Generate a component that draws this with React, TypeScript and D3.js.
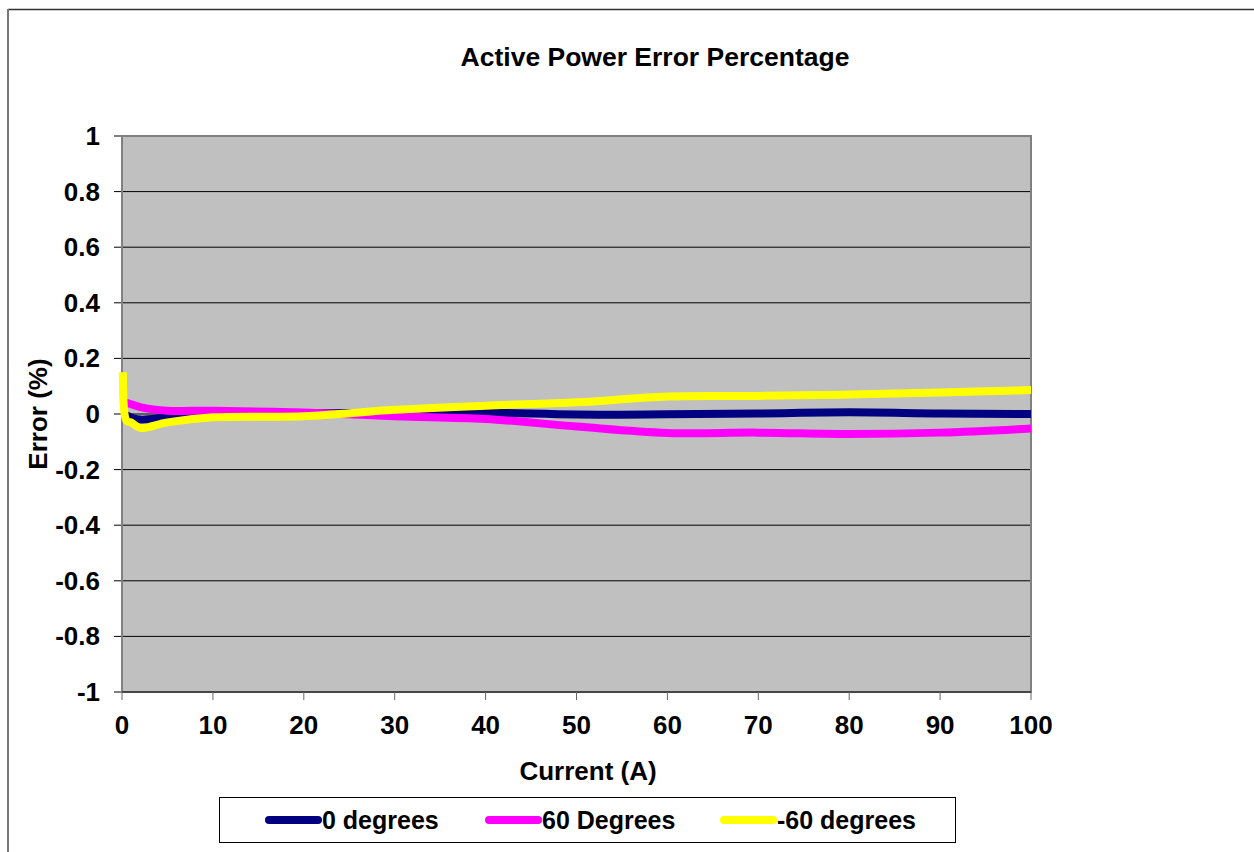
import * as d3 from "d3";

const MARGIN = { top: 136, right: 223, bottom: 160, left: 122 };
const WIDTH = 1254;
const HEIGHT = 852;

// current in amps
const current = [0.1, 0.5, 1, 2, 5, 10, 20, 30, 40, 50, 60, 70, 80, 90, 100];
const deg0 = [0, -0.005, -0.012, -0.02, -0.012, 0, 0.003, 0.004, 0.005, -0.002, -0.001, 0.002, 0.006, 0.002, 0];
const deg60 = [0.04, 0.04, 0.035, 0.025, 0.012, 0.012, 0.005, -0.008, -0.018, -0.045, -0.068, -0.067, -0.072, -0.067, -0.052];
const degMinus60 = [0.15, -0.025, -0.03, -0.05, -0.03, -0.012, -0.008, 0.015, 0.03, 0.042, 0.063, 0.065, 0.07, 0.077, 0.086];

const xTicks = [0, 10, 20, 30, 40, 50, 60, 70, 80, 90, 100];
const yTicks = [-1, -0.8, -0.6, -0.4, -0.2, 0, 0.2, 0.4, 0.6, 0.8, 1];

const series = [
  { name: "0 degrees", values: deg0, color: "#000080" },
  { name: "60 Degrees", values: deg60, color: "#FF00FF" },
  { name: "-60 degrees", values: degMinus60, color: "#FFFF00" },
];

const FONT = "'Liberation Sans', Arial, sans-serif";

export default function App() {
  const innerWidth = WIDTH - MARGIN.left - MARGIN.right;
  const innerHeight = HEIGHT - MARGIN.top - MARGIN.bottom;

  const xScale = d3.scaleLinear().domain([0, 100]).range([0, innerWidth]);
  const yScale = d3.scaleLinear().domain([-1, 1]).range([innerHeight, 0]);

  const line = d3
    .line<number>()
    .x((_, i) => xScale(current[i]))
    .y((d) => yScale(d))
    .curve(d3.curveCatmullRom.alpha(0.5));

  const legendItems = [265, 485, 720];

  return (
    <svg
      width={WIDTH}
      height={HEIGHT}
      style={{ position: "absolute", left: 0, top: 0, fontFamily: FONT, fontWeight: "bold" }}
    >
      <rect x={0} y={0} width={WIDTH} height={HEIGHT} fill="#fff" />
      {/* chart frame */}
      <line x1={8} x2={WIDTH} y1={9.5} y2={9.5} stroke="#333" strokeWidth={1.5} />
      <line x1={8} x2={8} y1={9} y2={HEIGHT} stroke="#777" strokeWidth={2} />

      <text x={655} y={57} textAnchor="middle" dominantBaseline="central" fontSize={26.5}>
        Active Power Error Percentage
      </text>

      <g transform={`translate(${MARGIN.left},${MARGIN.top})`}>
        <rect width={innerWidth} height={innerHeight} fill="#C0C0C0" />
        {yTicks.map((t) => (
          <g key={t} transform={`translate(0,${yScale(t)})`}>
            {t !== 1 && t !== -1 && <line x2={innerWidth} stroke="#000" strokeWidth={1} />}
            <line x1={-8} x2={0} stroke="#000" strokeWidth={1} />
            <text x={-22} textAnchor="end" dominantBaseline="central" fontSize={26}>
              {t}
            </text>
          </g>
        ))}
        <rect width={innerWidth} height={innerHeight} fill="none" stroke="#808080" strokeWidth={2} />
        <line x1={0} x2={innerWidth} y1={innerHeight} y2={innerHeight} stroke="#333" strokeWidth={1.5} />
        {xTicks.map((t) => (
          <g key={t} transform={`translate(${xScale(t)},${innerHeight})`}>
            <line y1={0} y2={8} stroke="#666" strokeWidth={1} />
            <text y={33} textAnchor="middle" dominantBaseline="central" fontSize={26}>
              {t}
            </text>
          </g>
        ))}

        {series.map((s) => (
          <path
            key={s.name}
            d={line(s.values) ?? ""}
            fill="none"
            stroke={s.color}
            strokeWidth={8}
            strokeLinejoin="round"
          />
        ))}
      </g>

      <text x={588} y={771} textAnchor="middle" dominantBaseline="central" fontSize={26}>
        Current (A)
      </text>
      <text
        transform={`translate(38,${MARGIN.top + innerHeight / 2}) rotate(-90)`}
        textAnchor="middle"
        dominantBaseline="central"
        fontSize={26}
      >
        Error (%)
      </text>

      {/* legend */}
      <rect x={219.5} y={797.5} width={736} height={45} fill="#fff" stroke="#000" strokeWidth={1} />
      {series.map((s, i) => (
        <g key={s.name} transform={`translate(${legendItems[i]},820)`}>
          <line x1={4} x2={53} stroke={s.color} strokeWidth={8} strokeLinecap="round" />
          <text x={57} dominantBaseline="central" fontSize={25}>
            {s.name}
          </text>
        </g>
      ))}
    </svg>
  );
}
